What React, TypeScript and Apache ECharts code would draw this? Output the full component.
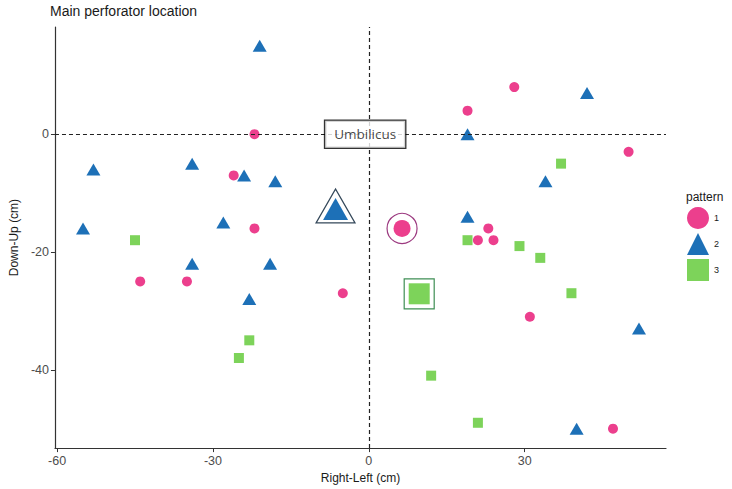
import React, { useEffect, useRef } from "react";
import * as echarts from "echarts";

// ---- data ----
const xTicks = [-60, -30, 0, 30];
const yTicks = [-40, -20, 0];
const legendNames = ["1", "2", "3"];

const pattern1 = [
  [-22, 0], [-26, -7], [-22, -16], [-44, -25], [-35, -25], [-5, -27],
  [28, 8], [19, 4], [50, -3], [23, -16], [21, -18], [24, -18], [31, -31], [47, -50],
];
const pattern2 = [
  [-21, 15], [-53, -6], [-34, -5], [-24, -7], [-18, -8], [-55, -16], [-28, -15],
  [-34, -22], [-19, -22], [-23, -28], [42, 7], [19, 0], [34, -8], [19, -14],
  [52, -33], [40, -50],
];
const pattern3 = [
  [-45, -18], [-23, -35], [-25, -38], [37, -5], [19, -18], [29, -19],
  [33, -21], [39, -27], [12, -41], [21, -49],
];
const centroid1 = [6.4, -16.0];
const centroid2 = [-6.4, -13.2];
const centroid3 = [9.7, -27.1];
const umbilicusPos = [-0.7, 0];

const PINK = "#ec3f8d";
const BLUE = "#1d70b7";
const GREEN = "#7dd35a";
const FONT = "Liberation Sans, Arial, sans-serif";

export default function App() {
  const ref = useRef<HTMLDivElement>(null);
  useEffect(() => {
    document.body.style.margin = "0";
    const chart = echarts.init(ref.current!, null, { renderer: "svg" });
    const axisCommon = {
      type: "value" as const,
      splitLine: { show: false },
      axisLine: { show: true, onZero: false, lineStyle: { color: "#333", width: 1.2 } },
      nameTextStyle: { color: "#1a1a1a", fontSize: 12, fontFamily: FONT },
      nameLocation: "middle" as const,
    };
    chart.setOption({
      animation: false,
      backgroundColor: "#fff",
      title: {
        text: "Main perforator location",
        left: 50,
        top: 4,
        padding: 0,
        textStyle: { fontSize: 14, fontWeight: "normal", color: "#1a1a1a", fontFamily: FONT },
      },
      grid: { left: 51, right: 66, top: 27, bottom: 40, containLabel: false },
      xAxis: {
        ...axisCommon,
        min: -60.4,
        max: 57.2,
        name: "Right-Left (cm)",
        nameGap: 21,
        axisTick: { show: true, length: 4, customValues: xTicks, lineStyle: { color: "#333" } },
        axisLabel: { customValues: xTicks, color: "#4d4d4d", fontSize: 12.5, margin: 6, fontFamily: FONT },
      },
      yAxis: {
        ...axisCommon,
        min: -53.3,
        max: 18.2,
        name: "Down-Up (cm)",
        nameGap: 31,
        axisTick: { show: true, length: 4, customValues: yTicks, lineStyle: { color: "#333" } },
        axisLabel: { customValues: yTicks, color: "#4d4d4d", fontSize: 12.5, margin: 6, fontFamily: FONT },
      },
      legend: {
        data: legendNames,
        orient: "vertical",
        left: 687,
        top: 207,
        padding: 0,
        itemWidth: 22,
        itemHeight: 22,
        itemGap: 4,
        selectedMode: false,
        textStyle: { fontSize: 9, color: "#1a1a1a", fontFamily: FONT },
      },
      graphic: [
        {
          type: "text",
          left: 686,
          top: 191,
          style: { text: "pattern", fontSize: 12, fill: "#1a1a1a", fontFamily: FONT },
        },
      ],
      series: [
        {
          type: "scatter",
          name: "lines",
          data: [],
          z: 1,
          silent: true,
          markLine: {
            silent: true,
            symbol: "none",
            label: { show: false },
            lineStyle: { color: "#222", width: 1.2, type: [4, 3] },
            data: [{ xAxis: 0 }, { yAxis: 0 }],
          },
        },
        {
          type: "scatter",
          name: "1",
          symbol: "circle",
          symbolSize: 10,
          z: 3,
          itemStyle: { color: PINK, opacity: 1 },
          emphasis: { disabled: true },
          data: [...pattern1, { value: centroid1, symbolSize: 17 }],
        },
        {
          type: "scatter",
          name: "2",
          symbol: "triangle",
          symbolSize: [14, 12],
          z: 3,
          itemStyle: { color: BLUE, opacity: 1 },
          emphasis: { disabled: true },
          data: [...pattern2, { value: centroid2, symbolSize: [25, 22], symbolOffset: [0, -3] }],
        },
        {
          type: "scatter",
          name: "3",
          symbol: "rect",
          symbolSize: 10,
          z: 3,
          itemStyle: { color: GREEN, opacity: 1 },
          emphasis: { disabled: true },
          data: [...pattern3, { value: centroid3, symbolSize: 21 }],
        },
        {
          type: "scatter",
          name: "centroids",
          z: 2,
          silent: true,
          emphasis: { disabled: true },
          data: [
            {
              value: centroid1,
              symbol: "circle",
              symbolSize: 30,
              itemStyle: { color: "rgba(0,0,0,0)", borderColor: "#9c3a80", borderWidth: 1.2, opacity: 1 },
            },
            {
              value: centroid2,
              symbol: "triangle",
              symbolSize: [39, 34],
              symbolOffset: [0, -6],
              itemStyle: { color: "rgba(0,0,0,0)", borderColor: "#34485a", borderWidth: 1.2, opacity: 1 },
            },
            {
              value: centroid3,
              symbol: "rect",
              symbolSize: 30,
              itemStyle: { color: "rgba(0,0,0,0)", borderColor: "#3f8f55", borderWidth: 1.2, opacity: 1 },
            },
          ],
        },
        {
          type: "scatter",
          name: "umbilicus",
          z: 5,
          silent: true,
          symbolSize: 0,
          data: [umbilicusPos],
          label: {
            show: true,
            position: "inside",
            formatter: "Umbilicus",
            backgroundColor: "#fff",
            borderColor: "#000",
            borderWidth: 1.3,
            padding: [7, 9, 6, 9],
            fontSize: 13.5,
            color: "#111",
            fontFamily: "Open Sans, Noto Sans, sans-serif",
          },
        },
      ],
    });
    return () => chart.dispose();
  }, []);
  return <div ref={ref} style={{ width: 732, height: 489 }} />;
}
